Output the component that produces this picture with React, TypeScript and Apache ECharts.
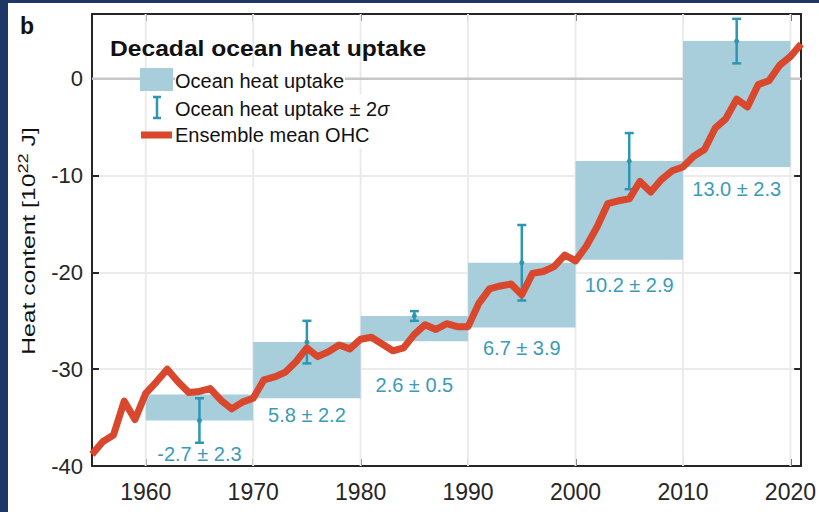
import React, { useEffect, useRef } from 'react';
import * as echarts from 'echarts';

// ---------- data ----------
const years = [
  1955, 1956, 1957, 1958, 1959, 1960, 1961, 1962, 1963, 1964,
  1965, 1966, 1967, 1968, 1969, 1970, 1971, 1972, 1973, 1974,
  1975, 1976, 1977, 1978, 1979, 1980, 1981, 1982, 1983, 1984,
  1985, 1986, 1987, 1988, 1989, 1990, 1991, 1992, 1993, 1994,
  1995, 1996, 1997, 1998, 1999, 2000, 2001, 2002, 2003, 2004,
  2005, 2006, 2007, 2008, 2009, 2010, 2011, 2012, 2013, 2014,
  2015, 2016, 2017, 2018, 2019, 2020, 2021,
];
const ohc = [
  -38.8, -37.5, -36.8, -33.3, -35.2, -32.5, -31.3, -30.0, -31.3, -32.4,
  -32.3, -32.0, -33.2, -34.1, -33.4, -33.0, -31.1, -30.8, -30.3, -29.2,
  -27.8, -28.7, -28.2, -27.5, -27.9, -26.9, -26.7, -27.4, -28.1, -27.8,
  -26.4, -25.4, -25.9, -25.3, -25.6, -25.6, -23.2, -21.7, -21.4, -21.2,
  -22.3, -20.1, -19.9, -19.4, -18.2, -18.8, -17.3, -15.3, -12.9, -12.6,
  -12.4, -10.6, -11.7, -10.4, -9.5, -9.1, -8.0, -7.3, -5.1, -4.1,
  -2.1, -2.9, -0.6, -0.2, 1.4, 2.3, 3.6,
];
const decadeStarts = [1960, 1970, 1980, 1990, 2000, 2010];
const decadeBase = [-32.6, -33.0, -27.1, -25.7, -18.7, -9.1];
const uptake = [-2.7, 5.8, 2.6, 6.7, 10.2, 13.0];
const sigma = [2.3, 2.2, 0.5, 3.9, 2.9, 2.3];
const labelYears = [1965, 1975, 1985, 1995, 2005, 2015];
const labelValues = [-38.8, -34.7, -31.6, -27.8, -21.3, -11.4];
const xTicks = [1960, 1970, 1980, 1990, 2000, 2010, 2020];
const yTicks = [-40, -30, -20, -10, 0];

const X_MIN = 1955;
const X_MAX = 2021;
const Y_MIN = -40;
const Y_MAX = 6.7;

// ---------- styles ----------
const FONT = '"Liberation Sans", Arial, Helvetica, sans-serif';
const AX = '#262626';
const GRID = '#ebebeb';
const BOX = '#a8cddb';
const ERR = '#2b97b3';
const LBL = '#3a9bb9';
const RED = '#d9472d';
const NAVY = '#1e3866';
const TXT = '#111111';

export default function App() {
  const ref = useRef<HTMLDivElement>(null);

  useEffect(() => {
    if (!ref.current) return;
    const chart = echarts.init(ref.current, undefined, { renderer: 'svg' });

    const axisLine = { show: true, onZero: false, lineStyle: { color: AX, width: 2 } };
    const xTick = {
      show: true, inside: true, length: 7, customValues: xTicks,
      lineStyle: { color: AX, width: 2 },
    };
    const yTick = {
      show: true, inside: true, length: 7, customValues: yTicks,
      lineStyle: { color: AX, width: 2 },
    };
    const legendText = (text: string, y: number, rich?: any) => ({
      type: 'text', x: 175, y, z: 100,
      style: {
        text, fill: TXT, fontSize: 20, fontFamily: FONT,
        align: 'left', verticalAlign: 'middle', textAlign: 'left', textVerticalAlign: 'middle',
        backgroundColor: '#ffffff', padding: [4, 1, 3, 0],
        rich,
      },
    });

    const option: any = {
      animation: false,
      grid: { left: 92, top: 14, right: 17, bottom: 46, containLabel: false },
      xAxis: [
        {
          type: 'value', position: 'bottom', min: X_MIN, max: X_MAX,
          axisLine, axisTick: xTick,
          axisLabel: {
            customValues: xTicks, fontSize: 23, color: AX, fontFamily: FONT, margin: 14,
            formatter: (v: number) => String(v),
          },
          splitLine: { show: false },
        },
        {
          type: 'value', position: 'top', min: X_MIN, max: X_MAX,
          axisLine, axisTick: xTick,
          axisLabel: { show: false },
          splitLine: { show: false },
        },
      ],
      yAxis: [
        {
          type: 'value', position: 'left', min: Y_MIN, max: Y_MAX, interval: 10,
          axisLine, axisTick: yTick,
          axisLabel: {
            customValues: yTicks, fontSize: 22, color: AX, fontFamily: FONT, margin: 9,
            formatter: (v: number) => String(v),
          },
          splitLine: { show: true, lineStyle: { color: GRID, width: 2 } },
        },
        {
          type: 'value', position: 'right', min: Y_MIN, max: Y_MAX, interval: 10,
          axisLine, axisTick: yTick,
          axisLabel: { show: false },
          splitLine: { show: false },
        },
      ],
      series: [
        {
          type: 'custom', name: 'vgrid', silent: true, z: 1,
          data: xTicks.map((v) => [v, Y_MIN]),
          renderItem: (_p: any, api: any) => {
            const x = api.value(0);
            const a = api.coord([x, Y_MIN]);
            const b = api.coord([x, Y_MAX]);
            return {
              type: 'line',
              shape: { x1: a[0], y1: a[1], x2: b[0], y2: b[1] },
              style: { stroke: GRID, lineWidth: 2 },
            };
          },
        },
        {
          type: 'custom', name: 'zero', silent: true, z: 1,
          data: [[X_MIN, 0]],
          renderItem: (_p: any, api: any) => {
            const a = api.coord([X_MIN, api.value(1)]);
            const b = api.coord([X_MAX, api.value(1)]);
            return {
              type: 'line',
              shape: { x1: a[0], y1: a[1], x2: b[0], y2: b[1] },
              style: { stroke: '#c6c6c6', lineWidth: 2.5 },
            };
          },
        },
        {
          type: 'custom', name: 'Ocean heat uptake', silent: true, z: 2,
          data: decadeStarts.map((s, i) => [s, decadeBase[i], decadeBase[i] + uptake[i]]),
          renderItem: (_p: any, api: any) => {
            const s = api.value(0);
            const v1 = api.value(1);
            const v2 = api.value(2);
            const p1 = api.coord([s, Math.max(v1, v2)]);
            const p2 = api.coord([s + 10, Math.min(v1, v2)]);
            return {
              type: 'rect',
              shape: { x: p1[0], y: p1[1], width: p2[0] - p1[0], height: p2[1] - p1[1] },
              style: { fill: BOX },
            };
          },
        },
        {
          type: 'custom', name: 'err', silent: true, z: 3,
          data: decadeStarts.map((s, i) => [s + 5, decadeBase[i] + uptake[i], sigma[i]]),
          renderItem: (_p: any, api: any) => {
            const x = api.value(0);
            const c = api.value(1);
            const sg = api.value(2);
            const top = api.coord([x, c + sg]);
            const bot = api.coord([x, c - sg]);
            const mid = api.coord([x, c]);
            const hw = 4.5;
            const st = { stroke: ERR, lineWidth: 2.5 };
            return {
              type: 'group',
              children: [
                { type: 'line', shape: { x1: top[0], y1: top[1], x2: bot[0], y2: bot[1] }, style: st },
                { type: 'line', shape: { x1: top[0] - hw, y1: top[1], x2: top[0] + hw, y2: top[1] }, style: st },
                { type: 'line', shape: { x1: bot[0] - hw, y1: bot[1], x2: bot[0] + hw, y2: bot[1] }, style: st },
                { type: 'circle', shape: { cx: mid[0], cy: mid[1], r: 2.5 }, style: { fill: ERR } },
              ],
            };
          },
        },
        {
          type: 'line', name: 'Ensemble mean OHC', z: 4,
          data: years.map((y, i) => [y, ohc[i]]),
          showSymbol: false, symbol: 'none',
          lineStyle: { color: RED, width: 7, join: 'round', cap: 'butt' },
          clip: true,
        },
        {
          type: 'custom', name: 'labels', silent: true, z: 5,
          data: labelYears.map((y, i) => [y, labelValues[i], i]),
          renderItem: (_p: any, api: any) => {
            const i = api.value(2);
            const p = api.coord([api.value(0), api.value(1)]);
            const txt = `${uptake[i].toFixed(1)} ± ${sigma[i].toFixed(1)}`;
            return {
              type: 'text', x: p[0], y: p[1],
              style: {
                text: txt, fill: LBL, fontSize: 20, fontFamily: FONT,
                align: 'center', verticalAlign: 'middle',
                textAlign: 'center', textVerticalAlign: 'middle',
              },
            };
          },
        },
      ],
      graphic: [
        {
          type: 'text', left: 20, top: 14, z: 100,
          style: { text: 'b', fill: TXT, fontSize: 23, fontWeight: 'bold', fontFamily: FONT },
        },
        {
          type: 'text', x: 110, y: 48, z: 100, scaleX: 1.12,
          style: {
            text: 'Decadal ocean heat uptake', fill: TXT, fontSize: 22, fontWeight: 'bold',
            fontFamily: FONT, align: 'left', verticalAlign: 'middle',
            textAlign: 'left', textVerticalAlign: 'middle',
          },
        },
        { type: 'rect', z: 100, shape: { x: 140, y: 68, width: 33, height: 23 }, style: { fill: BOX } },
        { type: 'line', z: 100, shape: { x1: 157, y1: 97, x2: 157, y2: 118 }, style: { stroke: ERR, lineWidth: 2.5 } },
        { type: 'line', z: 100, shape: { x1: 153, y1: 97, x2: 161, y2: 97 }, style: { stroke: ERR, lineWidth: 2.5 } },
        { type: 'line', z: 100, shape: { x1: 153, y1: 118, x2: 161, y2: 118 }, style: { stroke: ERR, lineWidth: 2.5 } },
        { type: 'line', z: 100, shape: { x1: 141, y1: 135, x2: 172, y2: 135 }, style: { stroke: RED, lineWidth: 7 } },
        legendText('Ocean heat uptake', 81),
        legendText('Ocean heat uptake ± 2{it|σ}', 108, {
          it: { fontStyle: 'italic', fontSize: 20, fontFamily: FONT, fill: TXT },
        }),
        legendText('Ensemble mean OHC', 135),
        {
          type: 'text', x: 29, y: 241, z: 100, rotation: Math.PI / 2, scaleX: 1.3,
          style: {
            text: 'Heat content [10{sup|22} J]', fill: TXT, fontSize: 19, fontFamily: FONT,
            align: 'center', verticalAlign: 'middle', textAlign: 'center', textVerticalAlign: 'middle',
            rich: {
              sup: { fontSize: 14, fontFamily: FONT, fill: TXT, verticalAlign: 'top', lineHeight: 26 },
            },
          },
        },
      ],
    };

    chart.setOption(option);
    return () => chart.dispose();
  }, []);

  return (
    <div style={{ position: 'fixed', left: 0, top: 0, width: 819, height: 512, background: NAVY }}>
      <div style={{ position: 'absolute', left: 8, top: 3, width: 811, height: 509, background: '#ffffff' }} />
      <div ref={ref} style={{ position: 'absolute', left: 0, top: 0, width: 819, height: 512 }} />
    </div>
  );
}
